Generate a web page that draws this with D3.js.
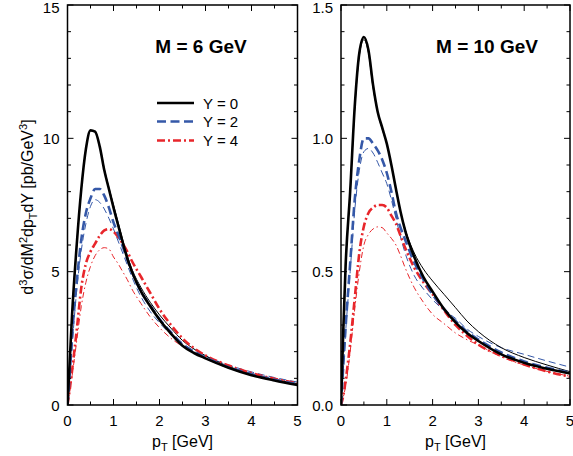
<!DOCTYPE html>
<html><head><meta charset="utf-8">
<script src="https://cdn.jsdelivr.net/npm/d3@7/dist/d3.min.js"></script>
<style>
body{margin:0;background:#fff;}
text{font-family:"Liberation Sans",Arial,Helvetica,sans-serif;}
</style></head>
<body><svg id="c" width="573" height="456"></svg>
<script>
// ---- data ----
const pT = [0,0.05,0.1,0.2,0.3,0.4,0.5,0.6,0.7,0.8,0.9,1.0,1.1,1.2,1.3,1.4,1.6,1.8,2.0,2.25,2.5,2.75,3.0,3.5,4.0,4.5,5.0];

// M = 6 GeV panel
const m6_Y0_thick = [0,1.7,3.4,6.0,8.1,9.6,10.3,10.25,9.7,8.8,8.1,7.4,6.75,6.1,5.5,5.0,4.25,3.7,3.2,2.68,2.22,1.95,1.75,1.4,1.12,0.92,0.75];
const m6_Y0_thin  = [0,1.7,3.4,6.0,8.1,9.6,10.3,10.25,9.7,8.85,8.15,7.5,6.85,6.2,5.6,5.1,4.4,3.85,3.38,2.88,2.42,2.1,1.85,1.45,1.17,0.96,0.8];
const m6_Y2_thick = [0,1.2,2.6,4.6,6.2,7.2,7.75,8.1,8.1,7.85,7.4,6.85,6.4,5.95,5.45,5.0,4.25,3.72,3.22,2.72,2.28,2.0,1.78,1.42,1.15,0.95,0.78];
const m6_Y2_thin  = [0,1.0,2.2,4.3,5.8,6.8,7.45,7.7,7.6,7.35,7.0,6.6,6.15,5.7,5.25,4.8,4.05,3.5,3.08,2.65,2.3,2.03,1.83,1.5,1.24,1.03,0.86];
const m6_Y4_thick = [0,0.6,1.3,2.8,4.4,5.3,5.75,6.05,6.35,6.55,6.6,6.5,6.3,6.05,5.75,5.4,4.8,4.2,3.6,3.0,2.5,2.13,1.86,1.48,1.2,0.98,0.82];
const m6_Y4_thin  = [0,0.5,1.1,2.4,3.7,4.6,5.2,5.6,5.82,5.9,5.85,5.55,5.3,5.0,4.7,4.35,3.8,3.3,2.9,2.5,2.2,1.96,1.76,1.43,1.18,0.98,0.83];

// M = 10 GeV panel
const m10_Y0_thick = [0,0.28,0.52,0.80,1.12,1.32,1.38,1.33,1.2,1.1,1.04,0.98,0.90,0.81,0.725,0.655,0.555,0.48,0.425,0.36,0.31,0.27,0.24,0.19,0.158,0.136,0.118];
const m10_Y0_thin  = [0,0.28,0.52,0.80,1.11,1.31,1.37,1.32,1.19,1.1,1.035,0.98,0.90,0.81,0.725,0.66,0.57,0.51,0.465,0.415,0.365,0.315,0.275,0.215,0.178,0.15,0.125];
const m10_Y2_thick = [0,0.15,0.29,0.53,0.77,0.92,1.0,1.0,0.98,0.955,0.92,0.87,0.80,0.72,0.665,0.62,0.535,0.47,0.415,0.36,0.315,0.275,0.245,0.197,0.163,0.14,0.122];
const m10_Y2_thin  = [0,0.13,0.27,0.5,0.73,0.88,0.95,0.962,0.945,0.91,0.87,0.83,0.77,0.70,0.63,0.57,0.485,0.435,0.395,0.355,0.325,0.285,0.257,0.215,0.19,0.165,0.142];
const m10_Y4_thick = [0,0.035,0.09,0.23,0.40,0.57,0.67,0.72,0.74,0.75,0.75,0.74,0.71,0.68,0.635,0.59,0.515,0.46,0.415,0.355,0.30,0.26,0.226,0.185,0.152,0.126,0.106];
const m10_Y4_thin  = [0,0.03,0.07,0.2,0.36,0.50,0.60,0.64,0.66,0.668,0.665,0.645,0.625,0.60,0.56,0.515,0.44,0.385,0.34,0.305,0.27,0.245,0.225,0.18,0.15,0.126,0.108];

const xTicks = [0,1,2,3,4,5];
const yTicks6 = [0,5,10,15];
const yTicks10 = [0,0.5,1.0,1.5];
const legendLabels = ["Y = 0","Y = 2","Y = 4"];
const titles = ["M = 6 GeV","M = 10 GeV"];

// ---- drawing ----
const svg = d3.select("#c");
const BLUE = "#3558a8", RED = "#e8262b", BLACK = "#000";
const styles = {
  Y0:{color:BLACK, thick:null, thin:null},
  Y2:{color:BLUE, thick:"9,4.5", thin:"7,4"},
  Y4:{color:RED, thick:"8,3,2,3", thin:"6,3,1.5,3"}
};

const panels = [
  {title:titles[0], yMax:15, yTicks:yTicks6, yMinor:1, fmt:d3.format("d"),
   curves:[["Y4",m6_Y4_thin,false],["Y2",m6_Y2_thin,false],["Y0",m6_Y0_thin,false],
           ["Y4",m6_Y4_thick,true],["Y2",m6_Y2_thick,true],["Y0",m6_Y0_thick,true]]},
  {title:titles[1], yMax:1.5, yTicks:yTicks10, yMinor:0.1, fmt:d3.format(".1f"),
   curves:[["Y4",m10_Y4_thin,false],["Y2",m10_Y2_thin,false],["Y0",m10_Y0_thin,false],
           ["Y4",m10_Y4_thick,true],["Y2",m10_Y2_thick,true],["Y0",m10_Y0_thick,true]]}
];
const geo = [{left:67.5,right:297.5},{left:341,right:570}];
const yTop = 5, yBot = 405;

panels.forEach((p,i)=>{
  const g = svg.append("g");
  const x = d3.scaleLinear().domain([0,5]).range([geo[i].left, geo[i].right]);
  const y = d3.scaleLinear().domain([0,p.yMax]).range([yBot, yTop]);
  const cid = "clip"+i;
  svg.append("clipPath").attr("id",cid).append("rect")
    .attr("x",geo[i].left).attr("y",yTop).attr("width",geo[i].right-geo[i].left).attr("height",yBot-yTop);

  const line = d3.line().x((d,k)=>x(pT[k])).y(d=>y(d)).curve(d3.curveMonotoneX);
  const cg = g.append("g").attr("clip-path",`url(#${cid})`);
  p.curves.forEach(([key,vals,thick])=>{
    const s = styles[key];
    cg.append("path").attr("d",line(vals)).attr("fill","none")
      .attr("stroke",s.color).attr("stroke-width",thick?2.6:1)
      .attr("stroke-dasharray",thick?s.thick:s.thin)
      .attr("stroke-linejoin","round");
  });

  // ticks
  const xMinor = d3.range(0,5.001,0.5);
  const yMinor = d3.range(0,p.yMax+1e-9,p.yMinor);
  const tk = g.append("g").attr("stroke","#000").attr("stroke-width",1);
  xMinor.forEach(v=>{
    const major = Math.abs(v-Math.round(v))<1e-6;
    const L = major?6:3.5;
    tk.append("line").attr("x1",x(v)).attr("x2",x(v)).attr("y1",yBot).attr("y2",yBot-L);
    tk.append("line").attr("x1",x(v)).attr("x2",x(v)).attr("y1",yTop).attr("y2",yTop+L);
  });
  yMinor.forEach(v=>{
    const major = p.yTicks.some(t=>Math.abs(t-v)<1e-6);
    const L = major?6:3.5;
    tk.append("line").attr("y1",y(v)).attr("y2",y(v)).attr("x1",geo[i].left).attr("x2",geo[i].left+L);
    tk.append("line").attr("y1",y(v)).attr("y2",y(v)).attr("x1",geo[i].right).attr("x2",geo[i].right-L);
  });
  // frame
  g.append("rect").attr("x",geo[i].left).attr("y",yTop).attr("width",geo[i].right-geo[i].left)
    .attr("height",yBot-yTop).attr("fill","none").attr("stroke","#000").attr("stroke-width",1.5);

  // tick labels
  xTicks.forEach(v=>{
    g.append("text").attr("x",x(v)).attr("y",426).attr("text-anchor","middle")
      .attr("font-size",15).text(v);
  });
  p.yTicks.forEach(v=>{
    const by = Math.max(y(v)+5.5, 13);
    g.append("text").attr("x",geo[i].left-8).attr("y",by).attr("text-anchor","end")
      .attr("font-size",15).text(p.fmt(v));
  });
  // x title
  const xt = g.append("text").attr("x",(geo[i].left+geo[i].right)/2).attr("y",447)
    .attr("text-anchor","middle").attr("font-size",16);
  xt.append("tspan").text("p");
  xt.append("tspan").attr("font-size",11).attr("dy",4).text("T");
  xt.append("tspan").attr("dy",-4).text(" [GeV]");

  // panel title
  g.append("text").attr("x",i===0?201:487).attr("y",53).attr("text-anchor","middle")
    .attr("font-size",19).attr("font-weight","bold").text(p.title);
});

// legend in left panel
const lg = svg.append("g");
["Y0","Y2","Y4"].forEach((k,j)=>{
  const yy = [103,121.5,140.5][j];
  const s = styles[k];
  lg.append("line").attr("x1",157).attr("x2",194).attr("y1",yy).attr("y2",yy)
    .attr("stroke",s.color).attr("stroke-width",2.6).attr("stroke-dasharray",s.thick);
  lg.append("text").attr("x",203).attr("y",yy+5.5).attr("font-size",15).text(legendLabels[j]);
});

// y axis title
const yt = svg.append("text").attr("transform","translate(33,207) rotate(-90)")
  .attr("text-anchor","middle").attr("font-size",16);
yt.append("tspan").text("d");
yt.append("tspan").attr("font-size",11).attr("dy",-6).text("3");
yt.append("tspan").attr("dy",6).text("σ/dM");
yt.append("tspan").attr("font-size",11).attr("dy",-6).text("2");
yt.append("tspan").attr("dy",6).text("dp");
yt.append("tspan").attr("font-size",11).attr("dy",4).text("T");
yt.append("tspan").attr("dy",-4).text("dY [pb/GeV");
yt.append("tspan").attr("font-size",11).attr("dy",-6).text("3");
yt.append("tspan").attr("dy",6).text("]");
</script>
</body></html>
